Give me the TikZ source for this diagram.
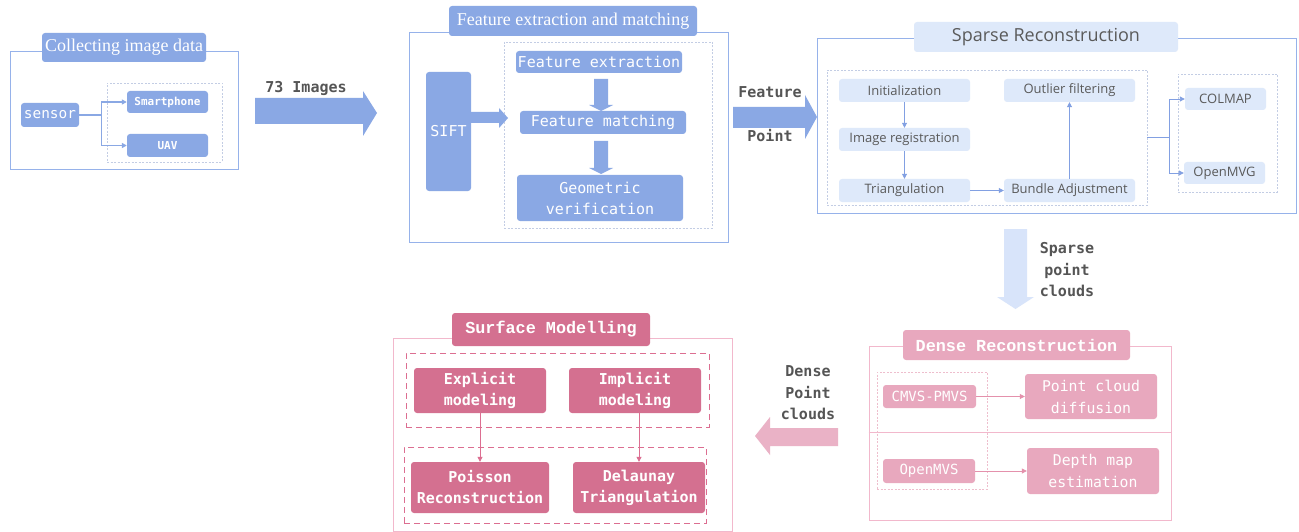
\documentclass[tikz,border=0pt]{standalone}
\usepackage{fontspec}
\setmainfont{Liberation Serif}
\newfontfamily\monof{DejaVu Sans Mono}
\newfontfamily\serifmono{Liberation Mono}
\newfontfamily\sparsef{Open Sans}
\usetikzlibrary{arrows.meta}
\definecolor{bfill}{RGB}{138,168,228}
\definecolor{bline}{RGB}{150,178,234}
\definecolor{bdashc}{RGB}{195,205,228}
\definecolor{sfill}{RGB}{222,233,250}
\definecolor{stext}{RGB}{90,90,90}
\definecolor{sarrow}{RGB}{130,160,226}
\definecolor{lgray}{RGB}{85,85,85}
\definecolor{sparsearrow}{RGB}{216,228,250}
\definecolor{pdarkc}{RGB}{212,112,144}
\definecolor{pmidc}{RGB}{232,168,190}
\definecolor{pframec}{RGB}{242,184,204}
\definecolor{pdashc}{RGB}{220,110,145}
\definecolor{pdotc}{RGB}{238,190,205}
\definecolor{parrowc}{RGB}{234,178,198}
\definecolor{pline}{RGB}{228,145,172}
\newcommand\fs[2]{\fontsize{#1}{#2}\selectfont}
\newcommand\bx[7]{%
  \pgfmathsetmacro\bxcx{(#2+#4)/2}\pgfmathsetmacro\bxcy{(#3+#5)/2}%
  \pgfmathsetmacro\bxw{#4-#2}\pgfmathsetmacro\bxh{#5-#3}%
  \node[#6, minimum width=\bxw pt, minimum height=\bxh pt, inner sep=0pt] (#1) at (\bxcx,\bxcy) {#7};}
\begin{document}
\begin{tikzpicture}[x=1pt,y=-1pt,
  bframe/.style={draw=bline, line width=0.9pt},
  bdash/.style={draw=bdashc, line width=0.6pt, dash pattern=on 2pt off 1.5pt},
  bbox/.style={fill=bfill, rounded corners=3pt, text=white, align=center},
  btitle/.style={bbox, font=\fs{18}{20}},
  bmono/.style={bbox, font=\monof\fs{15}{21}},
  sbox/.style={fill=sfill, rounded corners=3pt, text=stext, font=\sparsef\fs{13}{15}},
  pframe/.style={draw=pframec, line width=0.9pt},
  pdot/.style={draw=pdotc, line width=0.6pt, dash pattern=on 2pt off 1.5pt},
  pdash/.style={draw=pdashc, line width=0.8pt, dash pattern=on 6pt off 4pt},
  pmid/.style={fill=pmidc, rounded corners=3pt, text=white, align=center, font=\monof\fs{14.8}{22}},
  pdark/.style={fill=pdarkc, rounded corners=3pt, text=white, align=center, font=\monof\bfseries\fs{15}{21}},
  lab/.style={text=lgray, font=\monof\bfseries\fs{15}{21.5}, align=center, inner sep=0pt},
  tip/.style={-{Triangle[length=5pt,width=5pt]}},
]
\useasboundingbox (0,0) rectangle (1299,532);
\fill[white] (0,0) rectangle (1299,532);

% ---------- Collecting image data ----------
\bx{f1}{10}{51}{238}{169}{bframe}{}
\bx{t1}{42}{33}{206}{62}{btitle}{Collecting image data}
\bx{d1}{107}{83}{222}{162}{bdash}{}
\bx{sensor}{21}{103}{79}{127}{bbox,font=\monof\fs{14.4}{17}}{sensor}
\bx{smart}{127}{91}{208}{113}{bbox,font=\monof\bfseries\fs{11}{13}}{Smartphone}
\bx{uav}{127}{134}{208}{157}{bbox,font=\monof\bfseries\fs{11}{13}}{UAV}
\draw[bfill, line width=1.4pt, tip] (sensor.east) -- ++(22,0) |- (smart.west);
\draw[bfill, line width=1.4pt, tip] (sensor.east) -- ++(22,0) |- (uav.west);

\node[lab] (l73) at (306,88) {73 Images};
\fill[bfill] (255,98) -- (363,98) -- (363,91) -- (377,113) -- (363,136) -- (363,124) -- (255,124) -- cycle;

% ---------- Feature extraction and matching ----------
\bx{f2}{409}{32}{728}{242}{bframe}{}
\bx{t2}{449}{6}{697}{36}{btitle}{Feature extraction and matching}
\bx{d2}{504}{42}{712}{228}{bdash}{}
\bx{sift}{426}{72}{471}{191}{bmono}{SIFT}
\bx{fe}{516}{51}{682}{73}{bmono}{Feature extraction}
\bx{fm}{520}{111}{686}{134}{bmono}{Feature matching}
\bx{gv}{517}{175}{683}{221}{bmono}{Geometric\\verification}
\fill[bfill] (sift.east |- 0,112) -- (499,112) -- (499,108) -- (508,118) -- (499,128) -- (499,123) -- (sift.east |- 0,123) -- cycle;
\fill[bfill] (594,79) -- (608,79) -- (608,105) -- (613,105) -- (601,111) -- (589,105) -- (594,105) -- cycle;
\fill[bfill] (594,141) -- (608,141) -- (608,168) -- (613,168) -- (601,174) -- (589,168) -- (594,168) -- cycle;

\node[lab] (lfeat) at (770,92) {Feature};
\node[lab] (lpoint) at (770,136) {Point};
\fill[bfill] (733,107) -- (805,107) -- (805,95) -- (817,117) -- (805,139) -- (805,128) -- (733,128) -- cycle;

% ---------- Sparse Reconstruction ----------
\bx{f3}{817}{38}{1296}{213}{bframe}{}
\bx{t3}{914}{22}{1178}{52}{sbox,font=\sparsef\fs{18}{20}}{Sparse Reconstruction}
\bx{d3}{827}{70}{1147}{205}{bdash}{}
\bx{init}{839}{79}{970}{102}{sbox}{Initialization}
\bx{imgreg}{839}{128}{970}{151}{sbox}{Image registration}
\bx{tri}{839}{179}{970}{202}{sbox}{Triangulation}
\bx{outl}{1004}{79}{1135}{102}{sbox}{Outlier filtering}
\bx{ba}{1004}{179}{1135}{202}{sbox}{Bundle Adjustment}
\bx{d4}{1178}{74}{1277}{192}{bdash}{}
\bx{colmap}{1185}{88}{1266}{110}{sbox}{COLMAP}
\bx{openmvg}{1184}{162}{1265}{184}{sbox}{OpenMVG}
\draw[sarrow, line width=0.8pt, tip] (init) -- (imgreg);
\draw[sarrow, line width=0.8pt, tip] (imgreg) -- (tri);
\draw[sarrow, line width=0.8pt, tip] (tri) -- (ba);
\draw[sarrow, line width=0.8pt, tip] (ba) -- (outl);
\draw[sarrow, line width=0.9pt, tip] (d3.east) -- ++(22,0) |- (colmap.west);
\draw[sarrow, line width=0.9pt, tip] (d3.east) -- ++(22,0) |- (openmvg.west);

\fill[sparsearrow] (1004,229) -- (1027,229) -- (1027,297) -- (1034,297) -- (1015.5,309) -- (997,297) -- (1004,297) -- cycle;
\node[lab] (lsparse) at (1067,270) {Sparse\\point\\clouds};

% ---------- Dense Reconstruction ----------
\bx{f4}{869}{346}{1171}{520}{pframe}{}
\draw[pframec, line width=0.9pt] (f4.west |- 0,432) -- (f4.east |- 0,432);
\bx{t4}{903}{330}{1130}{360}{pmid,font=\serifmono\bfseries\fs{16.8}{20}}{Dense Reconstruction}
\bx{d5}{877}{372}{987}{489}{pdot}{}
\bx{cmvs}{883}{385}{976}{408}{pmid,font=\monof\fs{14}{17}}{CMVS-PMVS}
\bx{omvs}{883}{459}{975}{483}{pmid,font=\monof\fs{14}{17}}{OpenMVS}
\bx{pcd}{1025}{374}{1157}{419}{pmid}{Point cloud\\diffusion}
\bx{dme}{1027}{448}{1159}{494}{pmid}{Depth map\\estimation}
\draw[pline, line width=0.8pt, tip] (cmvs) -- (pcd);
\draw[pline, line width=0.8pt, tip] (omvs) -- (dme);

\fill[parrowc] (838,428) -- (770,428) -- (770,417) -- (755,436) -- (770,455) -- (770,446) -- (838,446) -- cycle;
\node[lab] (ldense) at (808,393) {Dense\\Point\\clouds};

% ---------- Surface Modelling ----------
\bx{f5}{393}{338}{732}{531}{pframe}{}
\bx{t5}{452}{313}{650}{346}{pdark,font=\serifmono\bfseries\fs{16.8}{20}}{Surface Modelling}
\bx{d6}{406}{353}{709}{427}{pdash}{}
\bx{d7}{404}{447}{706}{523}{pdash}{}
\bx{expl}{414}{368}{546}{413}{pdark}{Explicit\\modeling}
\bx{impl}{569}{368}{701}{413}{pdark}{Implicit\\modeling}
\bx{pois}{411}{462}{549}{513}{pdark}{Poisson\\Reconstruction}
\bx{del}{573}{462}{705}{513}{pdark}{Delaunay\\Triangulation}
\draw[pdashc, line width=0.8pt, tip] (expl) -- (pois);
\draw[pdashc, line width=0.8pt, tip] (del.north |- impl.south) -- (del.north);
\end{tikzpicture}
\end{document}
